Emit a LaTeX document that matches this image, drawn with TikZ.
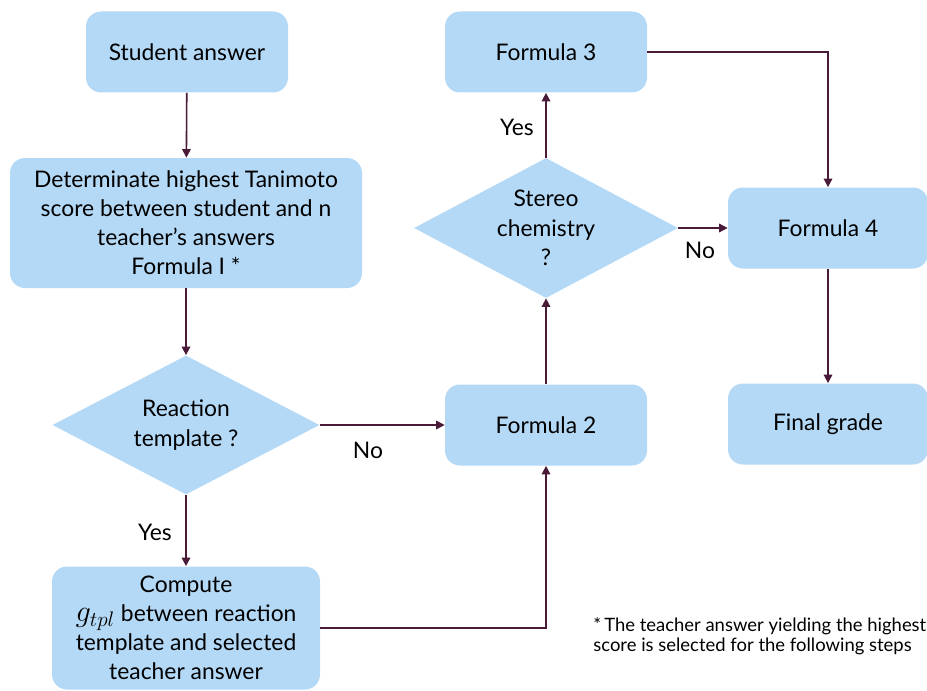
\documentclass[tikz,border=0pt]{standalone}
\usepackage{amsmath, amssymb}
\usepackage{fontspec}
\setmainfont{Lato}
\usetikzlibrary{arrows.meta, shapes.geometric}
\definecolor{boxblue}{RGB}{180,217,246}
\definecolor{lnkred}{RGB}{74,27,56}

\begin{document}
\begin{tikzpicture}[
  box/.style={rectangle, rounded corners=0.3cm, fill=boxblue,
              minimum width=4.04cm, minimum height=1.62cm,
              inner sep=2pt, align=center, font=\fontsize{13}{16.5}\selectfont},
  ask/.style={diamond, fill=boxblue, inner sep=0pt},
  asktxt/.style={align=center, font=\fontsize{13}{16.8}\selectfont},
  lk/.style={draw=lnkred, line width=0.9pt,
             -{Triangle[length=1.7mm, width=1.7mm]}},
  lbl/.style={font=\fontsize{13}{16.5}\selectfont, inner sep=1pt}
]
  \useasboundingbox (0,0) rectangle (18.54,-13.8);
  \node[box] (stud) at (3.74,-1.04) {Student answer};
  \node[box, minimum width=7.04cm, minimum height=2.6cm] (tani) at (3.72,-4.46)
    {Determinate highest Tanimoto\\ score between student and n\\ teacher's answers\\ Formula I *};
  \node[ask, minimum width=5.34cm, minimum height=2.78cm,
        label={[asktxt]center:Reaction\\ template ?}] (react) at (3.72,-8.5) {};
  \node[box, minimum width=5.36cm, minimum height=2.46cm] (comp) at (3.72,-12.56)
    {Compute\\ {\fontsize{18}{16.5}\selectfont$g_{tpl}$} between reaction\\ template and selected\\ teacher answer};
  \node[box] (f2) at (10.92,-8.5) {Formula 2};
  \node[ask, minimum width=5.28cm, minimum height=2.8cm,
        label={[asktxt]center:Stereo\\ chemistry\\ ?}] (stereo) at (10.92,-4.56) {};
  \node[box] (f3) at (10.92,-1.04) {Formula 3};
  \node[box, minimum width=4.0cm] (f4) at (16.56,-4.56) {Formula 4};
  \node[box, minimum width=4.0cm] (final) at (16.56,-8.48) {Final grade};
  \node[anchor=west, align=left, inner sep=0pt,
        font=\fontsize{10.5}{11.5}\selectfont] (note) at (11.86,-12.72)
    {*\,The teacher answer yielding the highest\\ score is selected for the following steps};

  \foreach \a/\b in {stud/tani, tani/react, react/comp, f2/stereo, stereo/f3, f4/final}
    \draw[lk] (\a) -- (\b);
  \draw[lk] (react) -- (f2);
  \draw[lk] (stereo) -- (f4);
  \draw[lk] (comp.east) -| (f2.south);
  \draw[lk] (f3.east) -| (f4.north);

  \node[lbl] (yes1) at (3.1,-10.64) {Yes};
  \node[lbl] (no1) at (7.36,-9.0) {No};
  \node[lbl] (yes2) at (10.34,-2.54) {Yes};
  \node[lbl] (no2) at (14.0,-5.0) {No};
\end{tikzpicture}
\end{document}
